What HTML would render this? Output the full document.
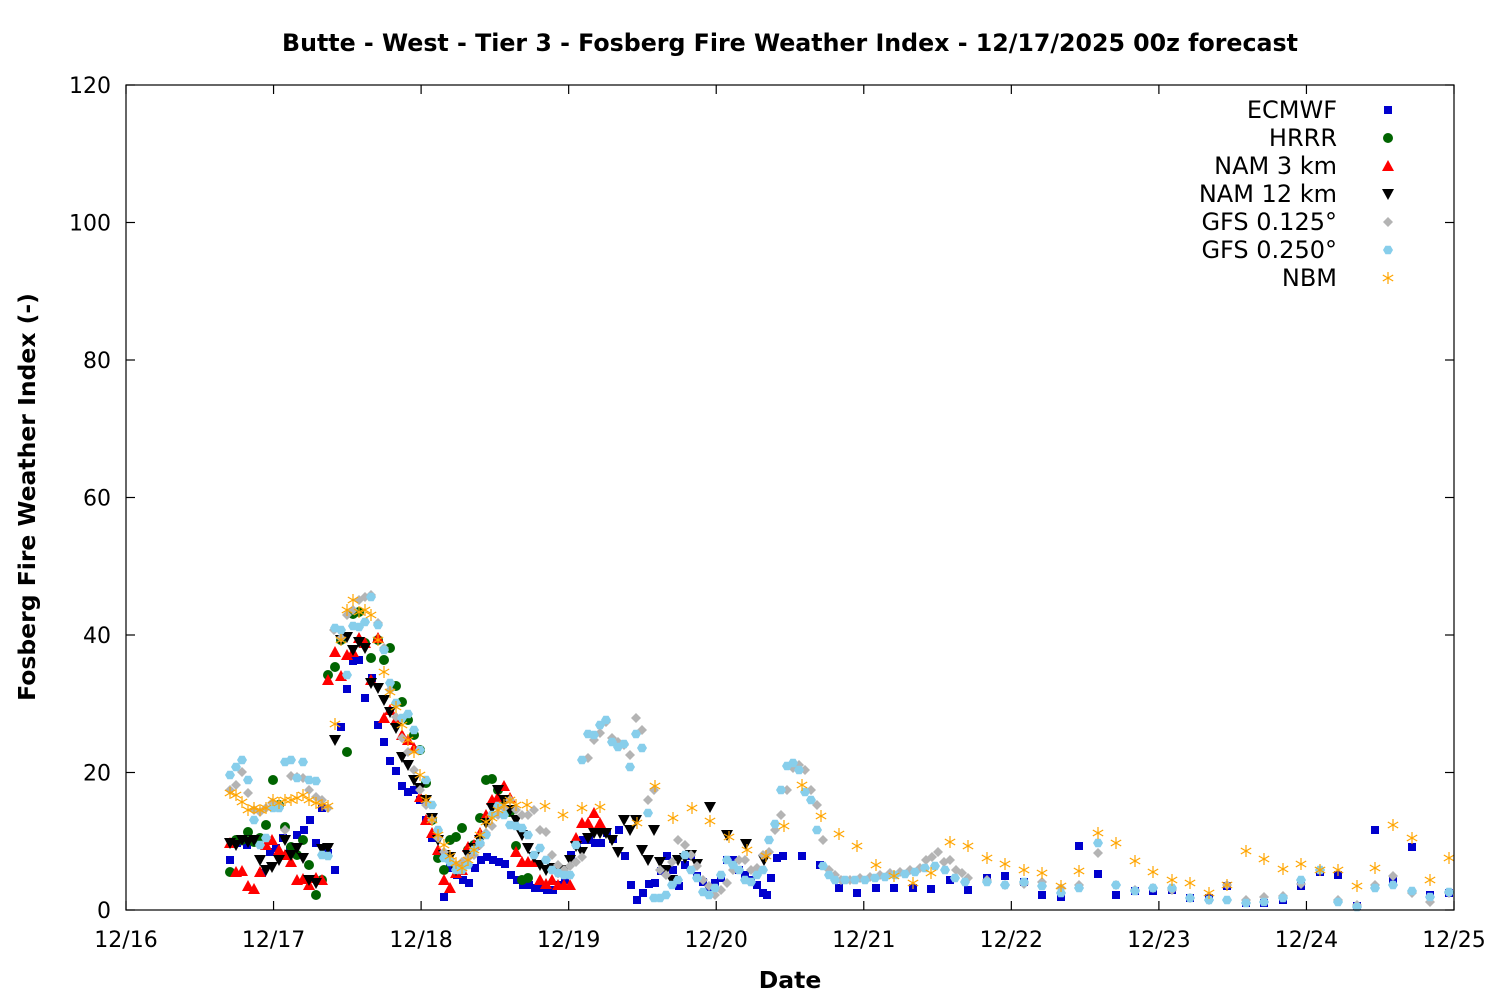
<!DOCTYPE html>
<html><head><meta charset="utf-8"><style>
html,body{margin:0;padding:0;background:#fff;}
svg{display:block;font-family:"DejaVu Sans","Liberation Sans",sans-serif;}
</style></head><body>
<svg id="s" width="1500" height="1000" viewBox="0 0 1500 1000" xmlns="http://www.w3.org/2000/svg">
<rect width="1500" height="1000" fill="#fff"/>
<text x="790" y="51" text-anchor="middle" font-size="23.7" font-weight="bold">Butte - West - Tier 3 - Fosberg Fire Weather Index - 12/17/2025 00z forecast</text>
<text x="790" y="988" text-anchor="middle" font-size="23.5" font-weight="bold">Date</text>
<text transform="translate(35,497) rotate(-90)" text-anchor="middle" font-size="23.5" font-weight="bold">Fosberg Fire Weather Index (-)</text>
<g id="ax"></g>
<g id="pts"></g>
<rect x="126" y="85" width="1328" height="825" fill="none" stroke="#000" stroke-width="1.2"/>
<g font-size="24" text-anchor="end">
<text x="1337" y="118">ECMWF</text>
<text x="1337" y="146">HRRR</text>
<text x="1337" y="174">NAM 3 km</text>
<text x="1337" y="202">NAM 12 km</text>
<text x="1337" y="230">GFS 0.125°</text>
<text x="1337" y="258">GFS 0.250°</text>
<text x="1337" y="286">NBM</text>
</g>
</svg>
<script>
var NS="http://www.w3.org/2000/svg";
function el(t,a,p){var e=document.createElementNS(NS,t);for(var k in a)e.setAttribute(k,a[k]);(p||document.getElementById('pts')).appendChild(e);return e;}
var ax=document.getElementById('ax');
for(var i=0;i<=6;i++){var y=910-i*137.5;
 el('line',{x1:126,y1:y,x2:135,y2:y,stroke:'#000','stroke-width':1.2},ax);
 el('line',{x1:1445,y1:y,x2:1454,y2:y,stroke:'#000','stroke-width':1.2},ax);
 var t=el('text',{x:111,y:y+8,'text-anchor':'end','font-size':22},ax);t.textContent=(i*20);}
var days=['12/16','12/17','12/18','12/19','12/20','12/21','12/22','12/23','12/24','12/25'];
for(var i=0;i<=9;i++){var x=126+i*1328/9;
 el('line',{x1:x,y1:910,x2:x,y2:901,stroke:'#000','stroke-width':1.2},ax);
 el('line',{x1:x,y1:85,x2:x,y2:94,stroke:'#000','stroke-width':1.2},ax);
 var t=el('text',{x:x,y:947,'text-anchor':'middle','font-size':22},ax);t.textContent=days[i];}
function P(s){var a=s.split(';'),r=[];a.forEach(function(q){q=q.trim();if(!q)return;var v=q.split(',');r.push([+v[0],+v[1]]);});return r;}
function sq(x,y,c){el('rect',{x:x-4,y:y-4,width:8,height:8,fill:c});}
function ci(x,y,c){el('circle',{cx:x,cy:y,r:5,fill:c});}
function tu(x,y,c){el('polygon',{points:(x-6)+','+(y+5)+' '+(x+6)+','+(y+5)+' '+x+','+(y-6),fill:c});}
function td(x,y,c){el('polygon',{points:(x-6)+','+(y-5)+' '+(x+6)+','+(y-5)+' '+x+','+(y+6),fill:c});}
function di(x,y,c){el('polygon',{points:x+','+(y-5)+' '+(x+5)+','+y+' '+x+','+(y+5)+' '+(x-5)+','+y,fill:c});}
function hx(x,y,c){var p=[];for(var k=0;k<6;k++){var a=Math.PI/3*k;p.push((x+5*Math.cos(a)).toFixed(1)+','+(y+5*Math.sin(a)).toFixed(1));}el('polygon',{points:p.join(' '),fill:c});}
function as(x,y,c){var g=[[0,-6,0,6],[-5.2,-3,5.2,3],[-5.2,3,5.2,-3]];g.forEach(function(l){el('line',{x1:x+l[0],y1:y+l[1],x2:x+l[2],y2:y+l[3],stroke:c,'stroke-width':1.2});});}
var S={};
S.gfs1="230,790;236,785;242,772;248,793;254,810;260,812;266,808;272,803;279,805;285,830;291,776;297,777;303,778;309,790;316,797;322,800;328,808;334,630;341,638;347,615;353,610;359,600;365,597;371,595;378,623;384,648;390,690;396,717;402,738;408,752;414,770;420,790;426,805;432,820;438,838;444,852;450,860;456,865;462,862;468,858;474,855;480,845;486,833;492,826;498,815;504,808;510,800;516,810;522,815;528,815;534,810;540,830;546,832;552,855;558,865;564,870;570,866;576,862;582,857;588,758;594,740;600,733;606,722;612,738;618,742;624,745;630,755;636,718;642,730;648,800;654,790;660,870;666,875;672,862;678,840;685,845;691,855;697,866;703,880;709,886;715,895;721,890;727,883;733,870;739,860;745,860;751,870;757,868;763,855;769,852;775,830;781,815;787,790;793,768;799,765;805,770;811,790;817,805;823,840;829,870;835,875;841,880;850,880;860,878;870,877;880,875;890,873;900,872;910,870;920,868;926,860;932,857;938,852;944,862;950,860;956,870;962,873;968,878;987,880;1005,885;1024,884;1042,882;1061,888;1079,885;1098,853;1116,885;1135,890;1153,888;1172,890;1190,898;1209,900;1227,885;1246,900;1264,897;1283,896;1301,884;1320,870;1338,900;1357,905;1375,885;1393,876;1412,893;1430,902;1449,893";
S.gfs2="230,775;236,767;242,760;248,780;254,820;260,845;266,838;273,808;279,808;285,762;291,760;297,778;303,762;309,780;316,781;322,855;328,856;335,628;341,630;347,675;353,626;359,627;365,622;371,597;378,625;384,650;390,683;396,703;402,718;408,714;414,730;420,750;426,780;432,805;438,830;444,858;450,862;456,870;462,870;468,865;474,850;480,843;486,835;492,815;498,806;504,815;510,825;516,826;522,828;528,835;534,855;540,848;546,860;552,870;558,873;564,875;570,875;576,845;582,760;588,734;594,735;600,725;606,720;612,742;618,747;624,744;630,767;636,734;642,748;648,813;654,898;660,898;666,895;672,885;678,880;685,855;691,870;697,878;703,892;709,895;715,888;721,875;727,860;733,865;739,870;745,880;751,882;757,875;763,870;769,840;775,824;781,790;787,766;793,763;799,770;805,792;811,800;817,830;823,866;829,875;835,880;845,880;855,880;865,880;875,878;885,877;895,875;905,874;915,872;925,868;935,866;945,870;955,878;965,882;987,882;1005,885;1024,882;1042,886;1061,893;1079,888;1098,843;1116,885;1135,891;1153,888;1172,888;1190,898;1209,900;1227,900;1246,903;1264,902;1283,898;1301,880;1320,870;1338,902;1357,907;1375,888;1393,885;1412,891;1430,897;1449,892";
S.nbm="230,793;236,795;242,802;248,810;254,808;260,810;266,808;273,800;279,803;285,800;291,800;297,798;303,795;309,800;316,803;322,805;328,806;335,724;341,640;347,610;353,600;359,612;365,610;371,615;378,640;384,672;390,692;396,707;402,725;408,740;414,752;420,775;426,800;432,820;438,835;444,845;450,856;456,863;462,868;468,860;474,850;480,835;486,822;492,818;498,810;504,805;510,800;516,805;527,805;545,806;563,815;582,808;600,807;637,823;655,786;673,818;692,808;710,821;729,837;747,850;766,856;784,826;802,785;821,816;839,834;857,846;876,865;894,876;913,883;931,873;950,842;968,846;987,858;1005,864;1024,870;1042,873;1061,886;1079,871;1098,833;1116,843;1135,861;1153,872;1172,880;1190,883;1209,893;1227,885;1246,851;1264,859;1283,869;1301,864;1320,870;1338,870;1357,886;1375,868;1393,825;1412,838;1430,880;1449,858";
S.ec="230,860;237,843;247,845;255,840;262,873;270,852;276,848;283,838;290,850;297,835;304,830;310,820;316,843;322,808;328,853;335,870;341,727;347,689;353,661;359,660;365,698;372,678;378,725;384,742;390,761;396,771;402,786;408,792;414,790;420,800;426,820;432,838;438,855;444,897;450,868;457,875;463,880;469,883;475,868;481,860;487,857;493,860;499,862;505,864;511,875;517,880;523,885;529,885;535,888;541,888;547,890;553,890;559,885;565,880;571,855;577,845;583,840;589,840;595,843;601,843;607,833;613,839;619,830;625,856;631,885;637,900;643,893;649,884;655,883;661,871;667,856;673,870;679,886;685,865;691,856;697,876;703,882;709,887;715,883;721,878;727,860;733,860;739,870;745,875;751,880;757,885;763,893;767,895;771,878;777,858;783,856;802,856;820,865;839,888;857,893;876,888;894,888;913,888;931,889;950,880;968,890;987,878;1005,876;1024,882;1042,895;1061,897;1079,846;1098,874;1116,895;1135,891;1153,891;1172,890;1190,898;1209,898;1227,886;1246,903;1264,903;1283,900;1301,886;1320,872;1338,875;1357,906;1375,830;1393,880;1412,847;1430,895;1449,893";
S.hr="230,872;236,840;242,840;248,832;254,842;260,838;266,825;273,780;279,805;285,827;291,847;297,855;303,840;309,865;316,895;322,880;328,675;335,667;341,640;347,752;353,614;359,612;365,643;371,658;378,640;384,660;390,648;396,686;402,702;408,720;414,735;420,750;426,783;432,820;438,858;444,870;450,840;456,837;462,828;468,850;474,845;480,818;486,780;492,779;498,790;504,800;510,812;516,846;522,880;528,878";
S.n3="230,843;236,872;242,871;248,886;254,889;260,872;266,845;272,840;279,850;285,855;291,862;297,880;303,879;309,885;316,878;322,880;328,680;335,652;341,676;347,655;353,652;359,638;365,643;371,680;378,638;384,718;390,710;396,720;402,735;408,740;414,748;420,797;426,820;432,833;438,850;444,880;450,888;456,873;462,870;468,847;474,845;480,833;486,815;492,800;498,797;504,786;510,798;516,852;522,862;528,862;534,862;540,880;546,884;552,880;558,885;564,885;570,885;576,838;582,823;588,823;594,813;600,823";
S.n12="230,843;236,845;242,840;248,842;254,840;260,860;266,870;272,867;279,860;285,840;291,855;297,848;303,858;309,880;316,883;322,849;328,848;335,740;341,640;347,637;353,650;359,642;365,648;371,683;378,688;384,700;390,712;396,728;402,757;408,765;414,780;420,788;426,800;432,818;438,840;444,855;450,857;456,870;462,868;468,855;474,848;480,840;486,823;492,808;498,790;504,800;510,810;516,820;522,835;528,848;534,857;540,865;546,870;552,868;558,872;564,870;570,860;576,846;582,852;588,838;594,833;600,833;606,833;612,840;618,852;624,820;630,830;636,820;642,850;648,860;654,830;660,862;666,870;672,880;678,860;685,858;691,855;697,864;710,807;727,835;746,844;764,860";
P(S.ec).forEach(function(p){sq(p[0],p[1],'#0000cd');});
P(S.hr).forEach(function(p){ci(p[0],p[1],'#006400');});
P(S.n3).forEach(function(p){tu(p[0],p[1],'#ff0000');});
P(S.n12).forEach(function(p){td(p[0],p[1],'#000');});
P(S.gfs1).forEach(function(p){di(p[0],p[1],'#b4b4b4');});
P(S.gfs2).forEach(function(p){hx(p[0],p[1],'#87ceeb');});
P(S.nbm).forEach(function(p){as(p[0],p[1],'#ffa500');});
sq(1388,110,'#0000cd');ci(1388,138,'#006400');tu(1388,166,'#ff0000');td(1388,194,'#000');di(1388,222,'#b4b4b4');hx(1388,250,'#87ceeb');as(1388,278,'#ffa500');
</script>
</body></html>
